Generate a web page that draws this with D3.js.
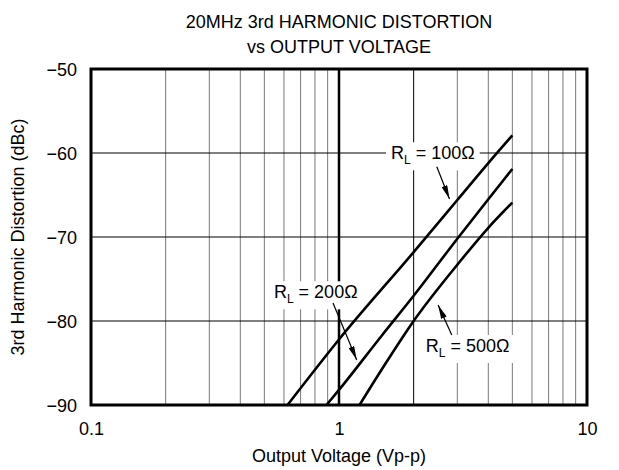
<!DOCTYPE html>
<html><head><meta charset="utf-8">
<script src="https://cdn.jsdelivr.net/npm/d3@7"></script>
<style>
body{margin:0;background:#fff}
text{font-family:"Liberation Sans",Arial,Helvetica,sans-serif;fill:#000}
</style>
</head><body>
<svg id="chart" width="619" height="470"></svg>
<script>
// ---- data ----
const titleLines = ["20MHz 3rd HARMONIC DISTORTION", "vs OUTPUT VOLTAGE"];
const xTicks = [0.1, 1, 10];
const xTickLabels = ["0.1", "1", "10"];
const xMinorGrid = [0.2,0.3,0.4,0.5,0.6,0.7,0.8,0.9,2,3,4,5,6,7,8,9];
const yTicks = [-50, -60, -70, -80, -90];
const yTickLabels = ["\u221250", "\u221260", "\u221270", "\u221280", "\u221290"];
const yGrid = [-60, -70, -80];

const voltage100 = [0.62, 1, 2, 3, 4, 5];
const dbc100     = [-90, -82.2, -71.8, -65.6, -61.2, -57.9];
const voltage200 = [0.89, 1, 1.5, 2, 3, 4, 5];
const dbc200     = [-90, -88.2, -81.6, -77, -70.2, -65.5, -61.9];
const voltage500 = [1.21, 1.5, 2, 3, 4, 5];
const dbc500     = [-90, -85.6, -80, -73.3, -68.9, -65.9];

const seriesNames = ["100\u03A9", "200\u03A9", "500\u03A9"];
// annotation anchors in data units: label centre, arrow start, arrow tip
const labelV   = [2.39, 0.806, 3.30];
const labelDb  = [-60, -76.55, -82.94];
const arrowFromV  = [2.48, 0.946, 2.85];
const arrowFromDb = [-61.63, -77.86, -81.67];
const arrowToV    = [2.79, 1.179, 2.51];
const arrowToDb   = [-65.48, -84.64, -78.1];

const xLabel = "Output Voltage (Vp-p)";
const yLabel = "3rd Harmonic Distortion (dBc)";

// ---- layout ----
const svg = d3.select("#chart");
const L = 91, T = 69, W = 496, H = 336;
const x = d3.scaleLog().domain([0.1, 10]).range([L, L + W]);
const y = d3.scaleLinear().domain([-90, -50]).range([T + H, T]);

// title
svg.append("text").attr("x", 339).attr("y", 28).attr("text-anchor", "middle")
  .style("font-size", "18px").text(titleLines[0]);
svg.append("text").attr("x", 339).attr("y", 53).attr("text-anchor", "middle")
  .style("font-size", "18px").text(titleLines[1]);

// grid
const g = svg.append("g");
g.selectAll("line.vmin").data(xMinorGrid).join("line")
  .attr("x1", d => x(d)).attr("x2", d => x(d)).attr("y1", T).attr("y2", T + H)
  .attr("stroke", d => d === 2 ? "#000" : "#7a7a7a").attr("stroke-width", 1);
g.append("line").attr("x1", x(1)).attr("x2", x(1)).attr("y1", T).attr("y2", T + H)
  .attr("stroke", "#000").attr("stroke-width", 2.5);
g.selectAll("line.h").data(yGrid).join("line")
  .attr("x1", L).attr("x2", L + W).attr("y1", d => y(d)).attr("y2", d => y(d))
  .attr("stroke", "#000").attr("stroke-width", 1);

// axes via d3 axis (labels only)
const xAxis = d3.axisBottom(x).tickValues(xTicks).tickSize(0).tickPadding(0)
  .tickFormat((d, i) => xTickLabels[i]);
svg.append("g").attr("transform", `translate(0,${T + H})`).call(xAxis)
  .call(s => s.select(".domain").remove())
  .call(s => s.selectAll("text").attr("dy", null).attr("y", 30)
     .style("font-size", "18px").attr("font-family", null));
const yAxis = d3.axisLeft(y).tickValues(yTicks).tickSize(0).tickPadding(14)
  .tickFormat((d, i) => yTickLabels[i]);
svg.append("g").attr("transform", `translate(${L},0)`).call(yAxis)
  .call(s => s.select(".domain").remove())
  .call(s => s.selectAll("text").attr("dy", "0.38em").style("font-size", "18px").attr("font-family", null));

// axis titles
svg.append("text").attr("x", x(1)).attr("y", 462).attr("text-anchor", "middle")
  .style("font-size", "18px").text(xLabel);
svg.append("text").attr("transform", `translate(24,${T + H / 2}) rotate(-90)`)
  .attr("text-anchor", "middle").style("font-size", "18px").text(yLabel);

// curves
const series = [
  voltage100.map((v, i) => [v, dbc100[i]]),
  voltage200.map((v, i) => [v, dbc200[i]]),
  voltage500.map((v, i) => [v, dbc500[i]])
];
const line = d3.line().x(d => x(d[0])).y(d => y(d[1])).curve(d3.curveMonotoneX);
svg.append("g").selectAll("path").data(series).join("path")
  .attr("d", line).attr("fill", "none").attr("stroke", "#000")
  .attr("stroke-width", 2.6).attr("stroke-linejoin", "round");

// arrow marker
svg.append("defs").append("marker").attr("id", "ah")
  .attr("viewBox", "0 0 14 6").attr("refX", 14).attr("refY", 3)
  .attr("markerWidth", 14).attr("markerHeight", 6)
  .attr("markerUnits", "userSpaceOnUse").attr("orient", "auto")
  .append("path").attr("d", "M0,0 L14,3 L0,6 Z").attr("fill", "#000");

// annotations
seriesNames.forEach((name, i) => {
  const ag = svg.append("g");
  const bg = ag.append("rect").attr("fill", "#fff");
  const t = ag.append("text").attr("x", x(labelV[i])).attr("y", y(labelDb[i]))
    .attr("text-anchor", "middle").attr("dy", "0.35em").style("font-size", "18px");
  t.append("tspan").text("R");
  t.append("tspan").text("L").style("font-size", "12px").attr("dy", 5);
  t.append("tspan").text(" = " + name).attr("dy", -5);
  const bb = t.node().getBBox();
  bg.attr("x", bb.x - 5).attr("y", bb.y - 1).attr("width", bb.width + 10).attr("height", bb.height + 4);
  ag.append("line")
    .attr("x1", x(arrowFromV[i])).attr("y1", y(arrowFromDb[i]))
    .attr("x2", x(arrowToV[i])).attr("y2", y(arrowToDb[i]))
    .attr("stroke", "#000").attr("stroke-width", 1.2).attr("marker-end", "url(#ah)");
});

// frame
svg.append("rect").attr("x", L).attr("y", T).attr("width", W).attr("height", H)
  .attr("fill", "none").attr("stroke", "#000").attr("stroke-width", 3);
</script>
</body></html>
